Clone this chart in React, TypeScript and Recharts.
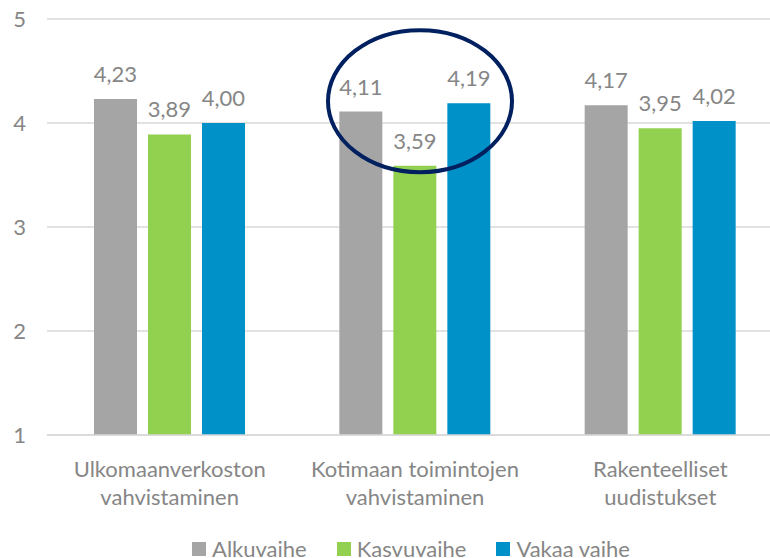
import { BarChart, Bar, XAxis, YAxis, CartesianGrid, Legend, LabelList, ReferenceDot } from "recharts";

const tickLines: string[][] = [
  ["Ulkomaanverkoston", "vahvistaminen"],
  ["Kotimaan toimintojen", "vahvistaminen"],
  ["Rakenteelliset", "uudistukset"],
];
const categories = tickLines.map((l) => l.join(" "));
const alkuvaihe = [4.23, 4.11, 4.17];
const kasvuvaihe = [3.89, 3.59, 3.95];
const vakaaVaihe = [4.0, 4.19, 4.02];
const yTicks = [1, 2, 3, 4, 5];
const series = [
  { key: "alku", name: "Alkuvaihe", color: "#a5a5a5" },
  { key: "kasvu", name: "Kasvuvaihe", color: "#92d050" },
  { key: "vakaa", name: "Vakaa vaihe", color: "#0091c9" },
];
// highlighted group and the value the ring is centred on
const highlighted = categories[1];
const highlightY = 4.21;

const data = categories.map((c, i) => ({
  name: c,
  alku: alkuvaihe[i],
  kasvu: kasvuvaihe[i],
  vakaa: vakaaVaihe[i],
}));

const FONT = "Lato, 'Open Sans', sans-serif";
const TEXT = "#868686";
const FS = 22;

const fmt = (v: any) => Number(v).toFixed(2).replace(".", ",");

function CatTick({ x, y, payload }: any) {
  const lines = tickLines[categories.indexOf(payload.value)] || [payload.value];
  return (
    <text x={x} y={y} textAnchor="middle" fill={TEXT} fontSize={FS} fontFamily={FONT}>
      {lines.map((l, i) => (
        <tspan key={i} x={x} dy={i === 0 ? 42 : 28}>
          {l}
        </tspan>
      ))}
    </text>
  );
}

function LegendContent() {
  return (
    <div style={{ display: "flex", justifyContent: "center", gap: 30, fontFamily: FONT, fontSize: FS, color: TEXT }}>
      {series.map((s) => (
        <div key={s.key} style={{ display: "flex", alignItems: "center" }}>
          <span style={{ width: 14, height: 14, background: s.color, marginRight: 6, display: "inline-block" }} />
          <span>{s.name}</span>
        </div>
      ))}
    </div>
  );
}

export default function App() {
  return (
    <div style={{ position: "fixed", left: 0, top: 0, width: 770, height: 558, overflow: "hidden", background: "#fff" }}>
      <BarChart
        width={786}
        height={580}
        data={data}
        margin={{ top: 19, right: 3, left: 0, bottom: 0 }}
        barSize={43}
        barGap={11}
      >
        <CartesianGrid vertical={false} stroke="#d9d9d9" strokeWidth={1.5} />
        <XAxis
          dataKey="name"
          height={105}
          tickLine={false}
          tickSize={0}
          tickMargin={0}
          axisLine={{ stroke: "#d9d9d9", strokeWidth: 1.5 }}
          tick={<CatTick />}
          interval={0}
        />
        <YAxis
          width={47}
          domain={[1, 5]}
          ticks={yTicks}
          axisLine={false}
          tickLine={false}
          tickSize={0}
          tickMargin={21}
          tick={{ fill: TEXT, fontSize: FS, fontFamily: FONT }}
        />
        <Legend
          height={40}
          content={<LegendContent />}
          wrapperStyle={{ left: 26, width: 770, top: 535 }}
        />
        {series.map((s) => (
          <Bar key={s.key} dataKey={s.key} name={s.name} fill={s.color} isAnimationActive={false}>
            <LabelList
              dataKey={s.key}
              position="top"
              offset={17}
              formatter={fmt}
              fill={TEXT}
              fontSize={FS}
              fontFamily={FONT}
            />
          </Bar>
        ))}
        <ReferenceDot
          x={highlighted}
          y={highlightY}
          ifOverflow="visible"
          shape={(p: any) => (
            <ellipse cx={p.cx + 5} cy={p.cy} rx={92} ry={71} fill="none" stroke="#002060" strokeWidth={4} />
          )}
        />
      </BarChart>
    </div>
  );
}
